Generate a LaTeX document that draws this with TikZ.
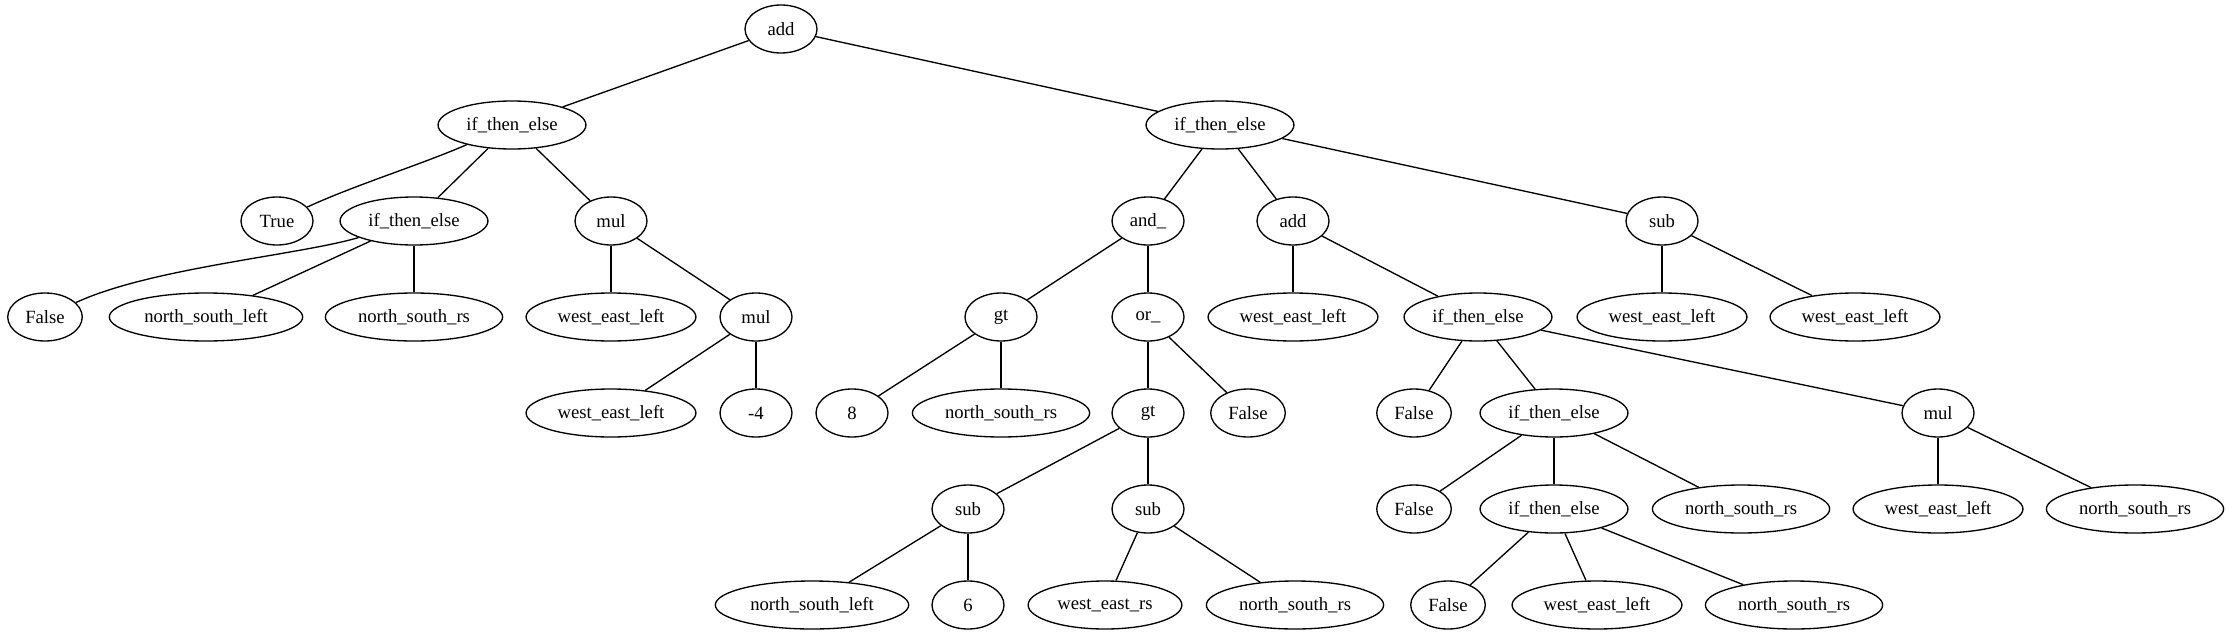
\documentclass[tikz,border=0pt]{standalone}
\usepackage{fontspec}
\setmainfont{Liberation Serif}
\usetikzlibrary{shapes.geometric}
\tikzset{
    gpnode/.style={ellipse, draw=black, line width=1pt, minimum width=54pt, minimum height=36pt,
                   inner xsep=5pt, inner ysep=2pt, font=\fontsize{14}{16}\selectfont},
    link/.style={line width=1pt, black}
}

\begin{document}
\begin{tikzpicture}[x=0.75pt, y=-0.75pt]
    \useasboundingbox (0,0) rectangle (2229,635);

    % Root
    \node[gpnode] (add0) at (781,29) {add};

    % Level 1
    \node[gpnode] (ite1) at (512,125) {if\_then\_else};
    \node[gpnode] (ite2) at (1220,125) {if\_then\_else};

    % Level 2
    \node[gpnode] (true1) at (277,221) {True};
    \node[gpnode] (ite3) at (414,221) {if\_then\_else};
    \node[gpnode] (mul1) at (611,221) {mul};
    \node[gpnode] (and1) at (1148,221) {and\_};
    \node[gpnode] (add2) at (1293,221) {add};
    \node[gpnode] (sub1) at (1662,221) {sub};

    % Level 3
    \node[gpnode] (false1) at (45,317) {False};
    \node[gpnode] (nsl1) at (206,317) {north\_south\_left};
    \node[gpnode] (nsrs1) at (414,317) {north\_south\_rs};
    \node[gpnode] (wel1) at (611,317) {west\_east\_left};
    \node[gpnode] (mul2) at (756,317) {mul};
    \node[gpnode] (gt1) at (1001,317) {gt};
    \node[gpnode] (or1) at (1148,317) {or\_};
    \node[gpnode] (wel3) at (1293,317) {west\_east\_left};
    \node[gpnode] (ite4) at (1478,317) {if\_then\_else};
    \node[gpnode] (wel4) at (1662,317) {west\_east\_left};
    \node[gpnode] (wel5) at (1855,317) {west\_east\_left};

    % Level 4
    \node[gpnode] (wel2) at (611,413) {west\_east\_left};
    \node[gpnode] (neg4) at (756,413) {-4};
    \node[gpnode] (num8) at (852,413) {8};
    \node[gpnode] (nsrs2) at (1001,413) {north\_south\_rs};
    \node[gpnode] (gt2) at (1148,413) {gt};
    \node[gpnode] (false2) at (1248,413) {False};
    \node[gpnode] (false3) at (1414,413) {False};
    \node[gpnode] (ite5) at (1554,413) {if\_then\_else};
    \node[gpnode] (mul3) at (1938,413) {mul};

    % Level 5
    \node[gpnode] (sub2) at (968,509) {sub};
    \node[gpnode] (sub3) at (1148,509) {sub};
    \node[gpnode] (false4) at (1414,509) {False};
    \node[gpnode] (ite6) at (1554,509) {if\_then\_else};
    \node[gpnode] (nsrs3) at (1741,509) {north\_south\_rs};
    \node[gpnode] (wel6) at (1938,509) {west\_east\_left};
    \node[gpnode] (nsrs4) at (2135,509) {north\_south\_rs};

    % Level 6
    \node[gpnode] (nsl2) at (812,605) {north\_south\_left};
    \node[gpnode] (num6) at (968,605) {6};
    \node[gpnode] (wers1) at (1105,605) {west\_east\_rs};
    \node[gpnode] (nsrs5) at (1295,605) {north\_south\_rs};
    \node[gpnode] (false5) at (1448,605) {False};
    \node[gpnode] (wel7) at (1597,605) {west\_east\_left};
    \node[gpnode] (nsrs6) at (1794,605) {north\_south\_rs};

    % Edges
    \foreach \a/\b in {add0/ite1, add0/ite2, ite1/ite3, ite1/mul1, ite3/nsl1, ite3/nsrs1,
                       mul1/wel1, mul1/mul2, mul2/wel2, mul2/neg4,
                       ite2/and1, ite2/add2, ite2/sub1, and1/gt1, and1/or1,
                       gt1/num8, gt1/nsrs2, or1/gt2, or1/false2, gt2/sub2, gt2/sub3,
                       sub2/nsl2, sub2/num6, sub3/wers1, sub3/nsrs5,
                       add2/wel3, add2/ite4, ite4/false3, ite4/ite5, ite4/mul3,
                       ite5/false4, ite5/ite6, ite5/nsrs3, ite6/false5, ite6/wel7, ite6/nsrs6,
                       mul3/wel6, mul3/nsrs4, sub1/wel4, sub1/wel5}
        \draw[link] (\a) -- (\b);

    % Curved edges
    \draw[link] (ite1) .. controls (420,165) and (355,185) .. (true1);
    \draw[link] (ite3) .. controls (300,255) and (150,268) .. (false1);
\end{tikzpicture}
\end{document}
